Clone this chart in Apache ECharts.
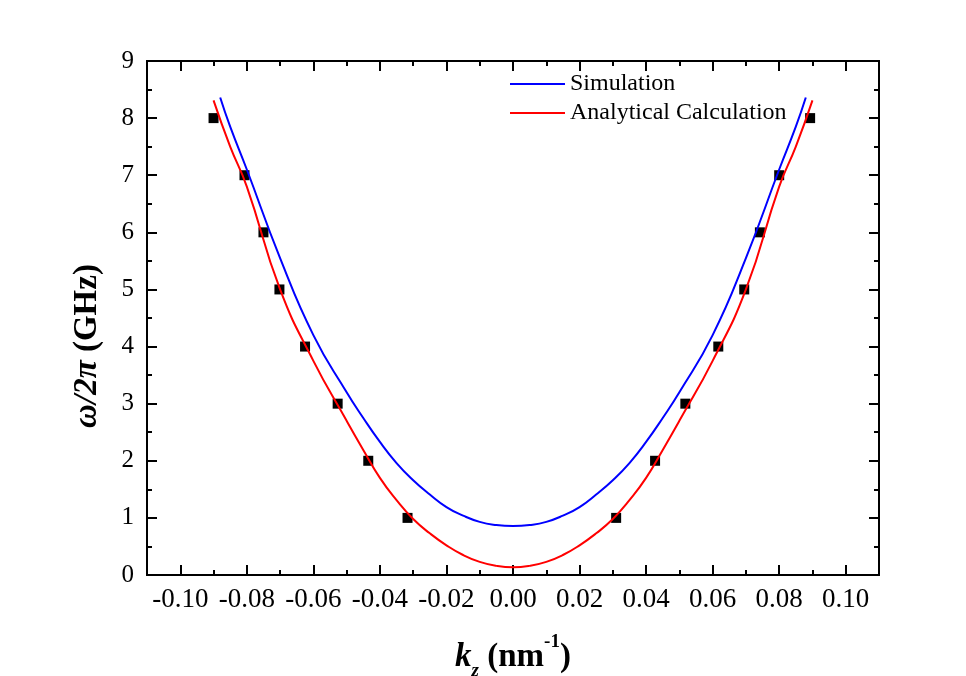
<!DOCTYPE html>
<html>
<head>
<meta charset="utf-8">
<script src="https://cdn.jsdelivr.net/npm/echarts@6/dist/echarts.min.js"></script>
<style>
  html, body { margin: 0; padding: 0; background: #fff; }
  #chart { width: 966px; height: 676px; }
</style>
</head>
<body>
<div id="chart"></div>
<script>
// tick labels
var xTickLabels = ['-0.10', '-0.08', '-0.06', '-0.04', '-0.02', '0.00', '0.02', '0.04', '0.06', '0.08', '0.10'];
var xMinorTicks = [-0.09, -0.07, -0.05, -0.03, -0.01, 0.01, 0.03, 0.05, 0.07, 0.09];

// Simulation (blue)
var simK = [-0.088, -0.085, -0.080, -0.070, -0.060, -0.050, -0.045, -0.040, -0.035, -0.030, -0.025, -0.020, -0.015, -0.010, -0.005, 0,
            0.005, 0.010, 0.015, 0.020, 0.025, 0.030, 0.035, 0.040, 0.045, 0.050, 0.060, 0.070, 0.080, 0.085, 0.088];
var simF = [8.36, 7.85, 7.10, 5.55, 4.20, 3.20, 2.75, 2.33, 1.96, 1.66, 1.41, 1.19, 1.04, 0.93, 0.875, 0.857,
            0.875, 0.93, 1.04, 1.19, 1.41, 1.66, 1.96, 2.33, 2.75, 3.20, 4.20, 5.55, 7.10, 7.85, 8.36];

// Analytical Calculation (red)
var anaK = [-0.090, -0.085, -0.080, -0.070, -0.060, -0.050, -0.045, -0.040, -0.035, -0.030, -0.025, -0.020, -0.015, -0.010, -0.005, 0,
            0.005, 0.010, 0.015, 0.020, 0.025, 0.030, 0.035, 0.040, 0.045, 0.050, 0.060, 0.070, 0.080, 0.085, 0.090];
var anaF = [8.31, 7.50, 6.80, 5.00, 3.75, 2.70, 2.19, 1.70, 1.31, 0.98, 0.73, 0.52, 0.35, 0.23, 0.16, 0.135,
            0.16, 0.23, 0.35, 0.52, 0.73, 0.98, 1.31, 1.70, 2.19, 2.70, 3.75, 5.00, 6.80, 7.50, 8.31];

// measured points (black squares)
var dotK = [-0.0900, -0.0807, -0.0750, -0.0702, -0.0625, -0.0527, -0.0435, -0.0317,
            0.0310, 0.0427, 0.0518, 0.0617, 0.0695, 0.0742, 0.0800, 0.0893];
var dotF = [8, 7, 6, 5, 4, 3, 2, 1,
            1, 2, 3, 4, 5, 6, 7, 8];

function pairs(xs, ys) {
    return xs.map(function (x, i) { return [x, ys[i]]; });
}

var xMajorTicks = xTickLabels.map(Number);
var serif = 'Liberation Serif';
var axisLineStyle = { color: '#000', width: 2 };

function xAxisDef(pos, ticks, len, withLabels) {
    return {
        type: 'value',
        position: pos,
        min: -0.11,
        max: 0.11,
        axisLine: { show: true, onZero: false, lineStyle: axisLineStyle },
        axisTick: { show: true, inside: true, length: len, customValues: ticks, lineStyle: axisLineStyle },
        axisLabel: withLabels ? {
            show: true,
            customValues: xMajorTicks,
            formatter: function (v) { return xTickLabels[xMajorTicks.indexOf(v)] || v.toFixed(2); },
            fontFamily: serif,
            fontSize: 27,
            color: '#000',
            margin: 11
        } : { show: false },
        splitLine: { show: false }
    };
}

function yAxisDef(pos, withLabels) {
    return {
        type: 'value',
        position: pos,
        min: 0,
        max: 9,
        interval: 1,
        axisLine: { show: true, onZero: false, lineStyle: axisLineStyle },
        axisTick: { show: true, inside: true, length: 10, lineStyle: axisLineStyle },
        minorTick: { show: true, splitNumber: 2, length: 5, lineStyle: axisLineStyle },
        axisLabel: withLabels ? {
            show: true, fontFamily: serif, fontSize: 25, color: '#000', margin: 13
        } : { show: false },
        splitLine: { show: false },
        minorSplitLine: { show: false }
    };
}

var myChart = echarts.init(document.getElementById('chart'), null, { renderer: 'canvas' });

var xBottom = xAxisDef('bottom', xMajorTicks, 10, true);
xBottom.name = '{k|k}{sub|z}{b| (nm}{sup|-1}{b|)}';
xBottom.nameLocation = 'middle';
xBottom.nameGap = 58;
xBottom.nameTextStyle = {
    rich: {
        k: { fontFamily: serif, fontSize: 33, fontWeight: 'bold', fontStyle: 'italic', color: '#000', lineHeight: 48, verticalAlign: 'middle' },
        b: { fontFamily: serif, fontSize: 33, fontWeight: 'bold', color: '#000', lineHeight: 48, verticalAlign: 'middle' },
        sub: { fontFamily: serif, fontSize: 19, fontWeight: 'bold', fontStyle: 'italic', color: '#000', lineHeight: 19, verticalAlign: 'bottom' },
        sup: { fontFamily: serif, fontSize: 19, fontWeight: 'bold', color: '#000', lineHeight: 19, verticalAlign: 'top' }
    }
};

var yLeft = yAxisDef('left', true);
yLeft.name = '{i|ω/2π}{b| (GHz)}';
yLeft.nameLocation = 'middle';
yLeft.nameGap = 40;
yLeft.nameTextStyle = {
    padding: [0, 56, 0, 0],
    rich: {
        i: { fontFamily: serif, fontSize: 33, fontWeight: 'bold', fontStyle: 'italic', color: '#000', lineHeight: 40 },
        b: { fontFamily: serif, fontSize: 33, fontWeight: 'bold', color: '#000', lineHeight: 40 }
    }
};

var option = {
    backgroundColor: '#fff',
    animation: false,
    grid: { left: 147, right: 87, top: 61, bottom: 101, containLabel: false, outerBoundsMode: 'none' },
    legend: {
        data: [
            { name: 'Simulation', icon: 'rect' },
            { name: 'Analytical Calculation', icon: 'rect' }
        ],
        orient: 'vertical',
        left: 505,
        top: 67,
        itemWidth: 55,
        itemHeight: 2,
        itemGap: 5,
        textStyle: { fontFamily: serif, fontSize: 24, color: '#000', lineHeight: 24 }
    },
    xAxis: [
        xBottom,
        xAxisDef('bottom', xMinorTicks, 5, false),
        xAxisDef('top', xMajorTicks, 10, false),
        xAxisDef('top', xMinorTicks, 5, false)
    ],
    yAxis: [yLeft, yAxisDef('right', false)],
    series: [
        {
            name: 'Measured',
            type: 'scatter',
            xAxisIndex: 0,
            yAxisIndex: 0,
            symbol: 'rect',
            symbolSize: 10,
            itemStyle: { color: '#000', opacity: 1 },
            z: 1,
            data: pairs(dotK, dotF)
        },
        {
            name: 'Simulation',
            type: 'line',
            xAxisIndex: 0,
            yAxisIndex: 0,
            smooth: true,
            symbol: 'none',
            lineStyle: { color: '#0000ff', width: 2 },
            itemStyle: { color: '#0000ff' },
            z: 3,
            data: pairs(simK, simF)
        },
        {
            name: 'Analytical Calculation',
            type: 'line',
            xAxisIndex: 0,
            yAxisIndex: 0,
            smooth: true,
            symbol: 'none',
            lineStyle: { color: '#ff0000', width: 2 },
            itemStyle: { color: '#ff0000' },
            z: 3,
            data: pairs(anaK, anaF)
        }
    ]
};
myChart.setOption(option);
</script>
</body>
</html>
